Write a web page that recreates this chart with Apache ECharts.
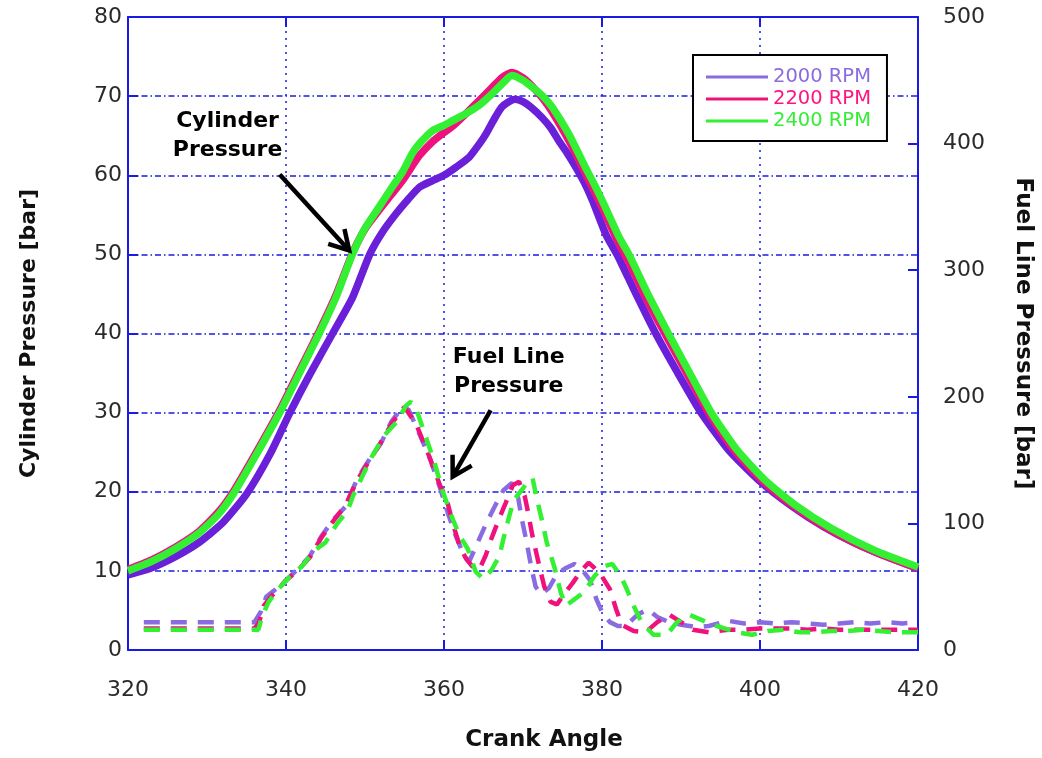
<!DOCTYPE html>
<html>
<head>
<meta charset="utf-8">
<title>Cylinder and Fuel Line Pressure</title>
<script src="https://cdn.jsdelivr.net/npm/echarts@6.0.0/dist/echarts.min.js"></script>
<style>
  html, body { margin: 0; padding: 0; background: #fff; }
  #chart { width: 1042px; height: 758px; }
</style>
</head>
<body>
<div id="chart"></div>
<script>
// crank angle ticks / axis ranges
const xTicks = [320, 340, 360, 380, 400, 420];
const rpmNames = ["2000 RPM", "2200 RPM", "2400 RPM"];

// cylinder pressure [bar], left axis
const cylAngle2000 = [320, 323, 326, 329, 332, 335, 338, 340.5, 343, 345.9, 348.4, 350.6, 352.2, 353.9, 355.5, 356.9, 358.5, 360, 361.5, 363.2, 364.5, 365.3, 366.3, 367.3, 368.2, 369, 370, 371, 372.4, 373.5, 374.5, 375.6, 376.7, 377.8, 378.8, 380.5, 382, 384.3, 386.8, 389.6, 392.6, 396, 399.8, 404, 408, 412, 416, 420];
const cyl2000 = [9.5, 10.4, 11.8, 13.6, 16.1, 19.7, 24.8, 30, 34.8, 40, 44.5, 50, 52.8, 55.1, 57, 58.5, 59.3, 60, 61, 62.3, 64, 65.2, 67, 68.6, 69.3, 69.6, 69.3, 68.6, 67.3, 66, 64.4, 62.8, 61, 59, 56.8, 52.5, 49.8, 45, 40, 35, 29.9, 25.3, 21.5, 18.2, 15.6, 13.5, 11.8, 10.3];

const cylAngle = [320, 323, 326, 329, 331.5, 333.5, 336.3, 339.2, 341.7, 344.2, 346.3, 348.4, 350, 351.8, 353.3, 354.8, 356, 356.9, 358.5, 360, 361.1, 362.8, 364.4, 366, 367.4, 368.6, 370, 371.2, 372.5, 373.7, 375.8, 377.9, 379.2, 380.4, 382.1, 383.4, 385.8, 388.4, 391.1, 393.9, 397, 400.6, 404.5, 409, 414.5, 420];
const cyl2200 = [10.2, 11.4, 13.0, 15.0, 17.5, 20.3, 25.1, 30.3, 35.3, 40.3, 44.8, 50.1, 53.2, 55.6, 57.5, 59.4, 61.2, 62.5, 64.2, 65.4, 66.2, 67.8, 69.4, 71, 72.4, 73, 72.3, 71.2, 69.7, 68, 64.4, 60.2, 57.6, 55.1, 51.4, 49, 44, 39.2, 34.3, 29.3, 24.9, 21.1, 18, 15.1, 12.4, 10.3];
const cyl2400 = [10.0, 11.2, 12.8, 14.8, 17.2, 20, 24.8, 30, 35, 40, 44.5, 50, 53.3, 56, 58.3, 60.5, 62.8, 64, 65.6, 66.3, 66.9, 67.8, 68.8, 70.2, 71.6, 72.6, 72, 71.1, 70, 68.6, 65.2, 61, 58.5, 56, 52.3, 50, 45, 40, 35, 29.9, 25.4, 21.5, 18.3, 15.4, 12.6, 10.5];

// fuel line pressure [bar], right axis
const fuelAngle2000 = [322, 336, 336.8, 337.5, 338.5, 340, 341.5, 343, 344.5, 346, 347.5, 349, 350.5, 352, 353.3, 354.6, 355.5, 356.8, 358.3, 359.5, 360.5, 361.5, 362.5, 363.2, 364.2, 365.2, 366.3, 367.5, 368.6, 369.4, 369.8, 370.4, 371, 371.6, 372.3, 373.3, 374.3, 375.5, 376.5, 377.4, 378.5, 379.3, 380, 381, 382, 383, 384.5, 385.8, 387, 388.5, 390, 392, 393.5, 396, 398, 400, 402, 404, 406, 408, 410, 412, 414, 416, 418, 420];
const fuel2000 = [22, 22, 30, 42, 47, 55, 64, 74, 90, 103, 113, 135, 150, 163, 180, 191, 190, 172, 150, 128, 108, 90, 75, 70, 84, 98, 112, 126, 132, 120, 105, 87, 67, 50, 44, 49, 60, 65, 68, 64, 55, 40, 30, 22, 19, 19, 28, 32, 26, 22, 20, 18, 19, 23, 21, 22, 21, 22, 21, 20, 21, 22, 21, 22, 21, 22];

const fuelAngle2200 = [322, 336, 336.6, 337.2, 338.5, 340, 341.5, 343, 344.5, 346, 347.5, 349, 350.5, 352, 353.5, 355, 356.5, 358, 359.5, 360.3, 361.2, 362, 362.8, 363.6, 364.5, 365.3, 366, 367, 367.8, 368.7, 369.5, 370.2, 370.6, 371.2, 372, 372.7, 373.5, 374.3, 375.3, 376.3, 377.3, 378.3, 379, 380, 381, 381.8, 382.5, 384, 385.5, 387, 388.5, 390, 391.5, 393.5, 396, 398, 400, 402, 404, 406, 408, 410, 412, 414, 416, 418, 420];
const fuel2200 = [17, 17, 22, 35, 45, 55, 63, 73, 89, 102, 114, 134, 149, 164, 180, 192, 178, 155, 130, 120, 98, 82, 72, 66, 64, 75, 88, 104, 116, 130, 133, 122, 110, 90, 68, 50, 38, 36, 45, 53, 62, 69, 65, 58, 48, 32, 20, 15, 14, 22, 28, 22, 16, 14, 16, 16, 17, 17, 17, 16, 17, 16, 16, 16, 16, 16, 16];

const fuelAngle2400 = [322, 336.5, 337, 337.8, 339, 340.5, 342, 343.5, 345, 346.5, 347.8, 348.5, 349.5, 350.8, 352.5, 354, 355.2, 355.8, 356.5, 357.5, 358.8, 359.8, 361, 362, 363, 364, 365, 366, 367, 367.8, 368.8, 369.8, 370.5, 371.2, 371.8, 372.5, 373, 374, 374.8, 375.4, 376.5, 377.8, 379, 380.2, 381.3, 382.4, 383, 384, 385, 386.5, 388.2, 389.5, 391, 392.5, 394, 395.5, 397, 399, 401, 403, 405, 407, 409, 411, 413, 415, 417, 420];
const fuel2400 = [16, 16, 27, 38, 48, 58, 66, 78, 85, 100, 110, 122, 135, 152, 170, 180, 193, 196, 190, 172, 148, 126, 105, 90, 80, 62, 56, 63, 74, 95, 118, 126, 132, 136, 118, 100, 85, 65, 45, 35, 40, 46, 58, 66, 68, 58, 50, 35, 22, 12, 12, 22, 28, 24, 20, 17, 14, 12, 15, 16, 14, 14, 15, 15, 16, 15, 14, 14];

// annotations, in [crank angle, cylinder pressure]
const cylLabelAt = [332.6, 65.0];
const cylArrow = [[339.2, 60.1], [348.0, 50.5]];
const fuelLabelAt = [368.2, 35.2];
const fuelArrow = [[365.9, 30.3], [361.1, 21.9]];

const blue = "#1a1ae6";
const cylColors = ["#6a1fd8", "#f0127c", "#33f033"];
const fuelColors = ["#8a6ce2", "#f0127c", "#33f033"];
const legendText = ["#8a6ce2", "#ff1482", "#33ee33"];

let pairs = (xs, ys) => xs.map((x, i) => [x, ys[i]]);

let fuelData = [pairs(fuelAngle2000, fuel2000), pairs(fuelAngle2200, fuel2200), pairs(fuelAngle2400, fuel2400)];
let cylData = [pairs(cylAngle2000, cyl2000), pairs(cylAngle, cyl2200), pairs(cylAngle, cyl2400)];

let series = [];
rpmNames.forEach((name, i) => {
  series.push({
    name: name,
    type: "line",
    xAxisIndex: 0,
    yAxisIndex: 1,
    data: fuelData[i],
    symbol: "none",
    silent: true,
    lineStyle: { color: fuelColors[i], width: 4.5, type: [16, 11], cap: "butt" },
    itemStyle: { color: fuelColors[i] },
    z: 3
  });
});
rpmNames.forEach((name, i) => {
  series.push({
    name: name,
    type: "line",
    xAxisIndex: 0,
    yAxisIndex: 0,
    data: cylData[i],
    symbol: "none",
    smooth: 0.2,
    silent: true,
    lineStyle: { color: cylColors[i], width: 7.5 },
    itemStyle: { color: cylColors[i] },
    z: 4
  });
});

const tickFont = { fontFamily: "DejaVu Sans", fontSize: 22, color: "#2a2a2a" };
const nameFont = { fontFamily: "DejaVu Sans", fontSize: 22, fontWeight: "bold", color: "#111" };

let myChart = echarts.init(document.getElementById("chart"), null, { renderer: "canvas" });
myChart.setOption({
  animation: false,
  backgroundColor: "#fff",
  grid: { left: 128, right: 122, top: 17, bottom: 108 },
  legend: {
    orient: "vertical",
    left: 693,
    top: 55,
    padding: [12, 16, 10, 13],
    itemGap: 2,
    itemWidth: 62,
    itemHeight: 3,
    icon: "rect",
    backgroundColor: "#fff",
    borderColor: "#000",
    borderWidth: 2,
    borderRadius: 0,
    textStyle: { fontFamily: "DejaVu Sans", fontSize: 19.5, lineHeight: 20 },
    data: rpmNames.map((n, i) => ({
      name: n,
      itemStyle: { color: fuelColors[i] },
      textStyle: { color: legendText[i] }
    }))
  },
  xAxis: [
    {
      type: "value",
      position: "bottom",
      min: xTicks[0],
      max: xTicks[xTicks.length - 1],
      interval: 20,
      name: "Crank Angle",
      nameLocation: "middle",
      nameGap: 79,
      nameTextStyle: Object.assign({}, nameFont, { fontSize: 23, padding: [0, 0, 0, 42] }),
      axisLine: { show: true, onZero: false, lineStyle: { color: blue, width: 2 } },
      axisTick: { show: true, inside: true, length: 10, lineStyle: { color: blue, width: 2 } },
      axisLabel: Object.assign({ margin: 29 }, tickFont),
      splitLine: { show: true, lineStyle: { color: blue, width: 1.5, type: [2, 5] } }
    },
    {
      type: "value",
      position: "top",
      min: xTicks[0],
      max: xTicks[xTicks.length - 1],
      interval: 20,
      axisLine: { show: true, onZero: false, lineStyle: { color: blue, width: 2 } },
      axisTick: { show: true, inside: true, length: 10, lineStyle: { color: blue, width: 2 } },
      axisLabel: { show: false },
      splitLine: { show: false }
    }
  ],
  yAxis: [
    {
      type: "value",
      position: "left",
      min: 0,
      max: 80,
      interval: 10,
      name: "Cylinder Pressure [bar]",
      nameLocation: "middle",
      nameRotate: 90,
      nameGap: 88,
      nameTextStyle: nameFont,
      axisLine: { show: true, onZero: false, lineStyle: { color: blue, width: 2 } },
      axisTick: { show: true, inside: true, length: 10, lineStyle: { color: blue, width: 2 } },
      axisLabel: Object.assign({ margin: 6 }, tickFont),
      splitLine: { show: true, lineStyle: { color: blue, width: 1.5, type: [6, 3, 1.5, 3] } }
    },
    {
      type: "value",
      position: "right",
      min: 0,
      max: 500,
      interval: 100,
      name: "Fuel Line Pressure [bar]",
      nameLocation: "middle",
      nameRotate: -90,
      nameGap: 93,
      nameTextStyle: Object.assign({}, nameFont, { fontSize: 23 }),
      axisLine: { show: true, onZero: false, lineStyle: { color: blue, width: 2 } },
      axisTick: { show: true, inside: true, length: 10, lineStyle: { color: blue, width: 2 } },
      axisLabel: Object.assign({ margin: 25 }, tickFont),
      splitLine: { show: false }
    }
  ],
  series: series
});

// arrows + annotation text placed from data coordinates
let toPx = (p) => myChart.convertToPixel({ seriesIndex: 3 }, p);
let arrowGraphics = (pts) => {
  let a = toPx(pts[0]);
  let b = toPx(pts[1]);
  let ang = Math.atan2(a[1] - b[1], a[0] - b[0]);
  let len = 22, spread = Math.PI / 6;
  let h1 = [b[0] + len * Math.cos(ang + spread), b[1] + len * Math.sin(ang + spread)];
  let h2 = [b[0] + len * Math.cos(ang - spread), b[1] + len * Math.sin(ang - spread)];
  return [
    { type: "polyline", z: 100, shape: { points: [a, b] }, style: { stroke: "#000", lineWidth: 4.5, fill: null } },
    { type: "polyline", z: 100, shape: { points: [h1, b, h2] }, style: { stroke: "#000", lineWidth: 4.5, fill: null, lineJoin: "miter" } }
  ];
};
let textGraphic = (txt, at) => {
  let p = toPx(at);
  return {
    type: "text",
    z: 100,
    x: p[0],
    y: p[1],
    style: {
      text: txt,
      fontFamily: "DejaVu Sans",
      fontSize: 22,
      fontWeight: "bold",
      fill: "#000",
      align: "center",
      verticalAlign: "middle",
      lineHeight: 29
    }
  };
};
myChart.setOption({
  graphic: [
    textGraphic("Cylinder\nPressure", cylLabelAt),
    textGraphic("Fuel Line\nPressure", fuelLabelAt)
  ].concat(arrowGraphics(cylArrow), arrowGraphics(fuelArrow))
});

window.addEventListener("resize", function () {
  myChart.resize();
});
</script>
</body>
</html>
